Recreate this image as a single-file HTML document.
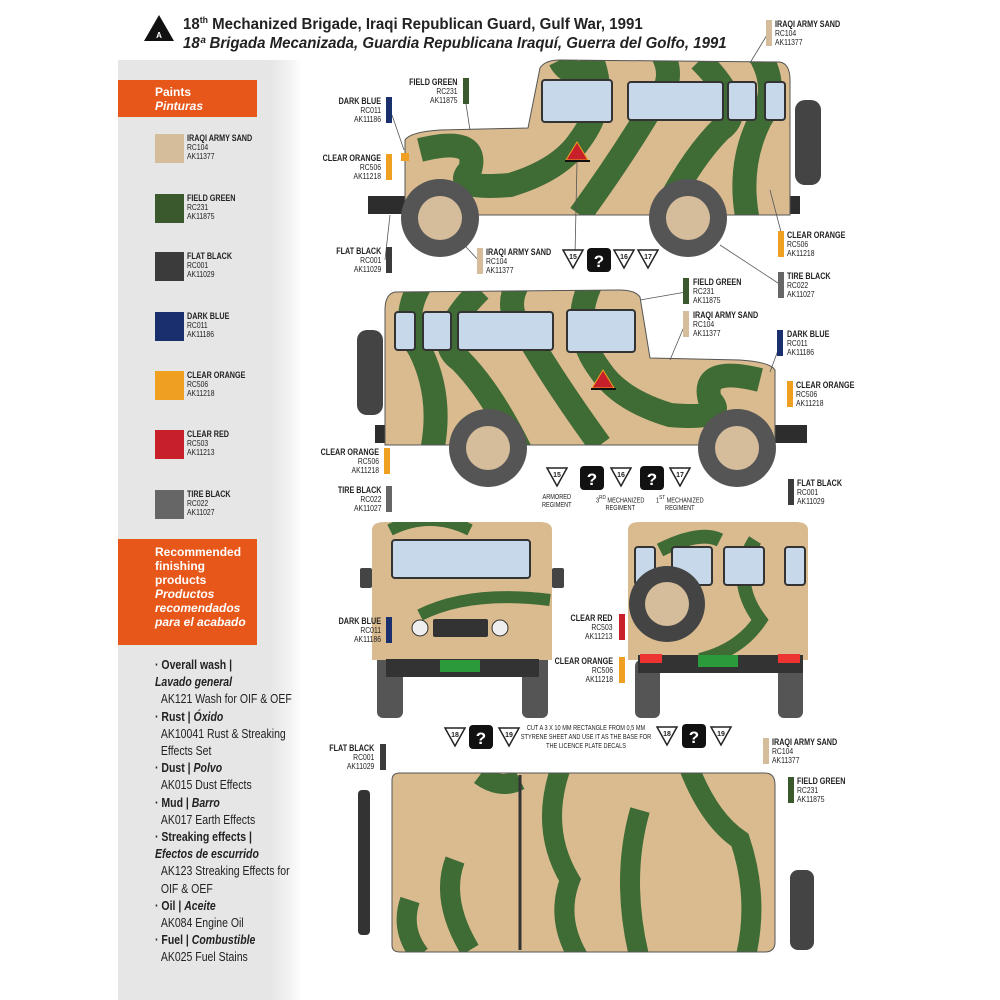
<!DOCTYPE html>
<html><head><meta charset="utf-8"><style>
body{margin:0;width:1000px;height:1000px;background:#fff;position:relative;overflow:hidden;font-family:"Liberation Sans Narrow","Liberation Sans",sans-serif}
.a{position:absolute}
.lb{position:absolute;font-size:8.5px;line-height:9px;color:#222;white-space:nowrap;transform:scaleX(.8);transform-origin:left top}
.lb b{font-size:9px}
.r{text-align:right;transform-origin:right top}
.bar{position:absolute;width:6px;height:26px}
.list{position:absolute;left:155px;top:657px;font-size:12.5px;line-height:17.2px;color:#222;transform:scaleX(.84);transform-origin:left top;white-space:nowrap}
.list b{font-weight:bold}
</style></head><body>
<div class="a" style="left:118px;top:60px;width:165px;height:940px;background:#e6e6e6"></div>
<div class="a" style="left:270px;top:60px;width:32px;height:940px;background:linear-gradient(90deg,#e6e6e6,#f2f2f2 60%,#fff)"></div>
<div class="a" style="left:118px;top:80px;width:139px;height:37px;background:#e8571a;color:#fff;font-family:'Liberation Sans',sans-serif;font-weight:bold;font-size:12px;line-height:14px"><div style="padding:5px 0 0 37px">Paints<br><i>Pinturas</i></div></div>
<div class="a" style="left:118px;top:539px;width:139px;height:106px;background:#e8571a;color:#fff;font-family:'Liberation Sans',sans-serif;font-weight:bold;font-size:12px;line-height:14px"><div style="padding:6px 0 0 37px">Recommended<br>finishing<br>products<br><i>Productos<br>recomendados<br>para el acabado</i></div></div>

<div class="a" style="left:155px;top:134px;width:29px;height:29px;background:#d5bd9b"></div>
<div class="lb" style="left:187px;top:134px"><b>IRAQI ARMY SAND</b><br>RC104<br>AK11377</div>
<div class="a" style="left:155px;top:194px;width:29px;height:29px;background:#3a5a2e"></div>
<div class="lb" style="left:187px;top:194px"><b>FIELD GREEN</b><br>RC231<br>AK11875</div>
<div class="a" style="left:155px;top:252px;width:29px;height:29px;background:#3b3b3b"></div>
<div class="lb" style="left:187px;top:252px"><b>FLAT BLACK</b><br>RC001<br>AK11029</div>
<div class="a" style="left:155px;top:312px;width:29px;height:29px;background:#1a2f6e"></div>
<div class="lb" style="left:187px;top:312px"><b>DARK BLUE</b><br>RC011<br>AK11186</div>
<div class="a" style="left:155px;top:371px;width:29px;height:29px;background:#f0a020"></div>
<div class="lb" style="left:187px;top:371px"><b>CLEAR ORANGE</b><br>RC506<br>AK11218</div>
<div class="a" style="left:155px;top:430px;width:29px;height:29px;background:#c8202a"></div>
<div class="lb" style="left:187px;top:430px"><b>CLEAR RED</b><br>RC503<br>AK11213</div>
<div class="a" style="left:155px;top:490px;width:29px;height:29px;background:#666"></div>
<div class="lb" style="left:187px;top:490px"><b>TIRE BLACK</b><br>RC022<br>AK11027</div>

<div class="list"><b>· Overall wash |</b><br><b><i>Lavado general</i></b><br>&nbsp;&nbsp;AK121 Wash for OIF &amp; OEF<br><b>· Rust | <i>Óxido</i></b><br>&nbsp;&nbsp;AK10041 Rust &amp; Streaking<br>&nbsp;&nbsp;Effects Set<br><b>· Dust | <i>Polvo</i></b><br>&nbsp;&nbsp;AK015 Dust Effects<br><b>· Mud | <i>Barro</i></b><br>&nbsp;&nbsp;AK017 Earth Effects<br><b>· Streaking effects |</b><br><b><i>Efectos de escurrido</i></b><br>&nbsp;&nbsp;AK123 Streaking Effects for<br>&nbsp;&nbsp;OIF &amp; OEF<br><b>· Oil | <i>Aceite</i></b><br>&nbsp;&nbsp;AK084 Engine Oil<br><b>· Fuel | <i>Combustible</i></b><br>&nbsp;&nbsp;AK025 Fuel Stains</div>

<svg class="a" style="left:143px;top:14px" width="32" height="28"><polygon points="16,1 31,27 1,27" fill="#111"/><text x="16" y="24" font-size="8" fill="#fff" text-anchor="middle" font-family="Liberation Sans" font-weight="bold">A</text></svg>
<div class="a" style="left:183px;top:11px;font-family:'Liberation Sans',sans-serif;font-weight:bold;font-size:15.5px;line-height:19px;color:#222;transform:scaleX(.97);transform-origin:left top;white-space:nowrap">18<sup style="font-size:9px">th</sup> Mechanized Brigade, Iraqi Republican Guard, Gulf War, 1991<br><i>18ª Brigada Mecanizada, Guardia Republicana Iraquí, Guerra del Golfo, 1991</i></div>

<svg class="a" style="left:0;top:0" width="1000" height="1000">
<defs>
<clipPath id="c1"><path d="M405,140 Q410,132 440,130 L528,128 L540,68 Q545,60 560,60 L780,62 Q790,64 790,80 L790,215 L405,215 Z"/></clipPath>
<clipPath id="c2"><path d="M775,370 Q770,362 740,360 L650,358 L640,297 Q635,290 620,290 L395,292 Q385,294 385,310 L385,445 L775,445 Z"/></clipPath>
<clipPath id="c3"><path d="M372,530 Q372,522 385,522 L540,522 Q552,522 552,530 L552,660 L372,660 Z"/></clipPath>
<clipPath id="c4"><path d="M628,530 Q628,522 640,522 L796,522 Q808,522 808,530 L808,660 L628,660 Z"/></clipPath>
<clipPath id="c5"><path d="M392,780 Q392,773 400,773 L765,773 Q775,773 775,785 L775,942 Q775,952 765,952 L400,952 Q392,952 392,945 Z"/></clipPath>
</defs>
<g>
<rect x="368" y="196" width="432" height="18" fill="#2d2d2d"/>
<g clip-path="url(#c1)"><rect x="400" y="55" width="400" height="165" fill="#d9bb8f"/>
<g stroke="#3f6b35" stroke-width="24" fill="none"><path d="M420,150 Q480,135 470,170 Q450,190 510,185 Q560,170 580,140 Q610,100 590,55"/><path d="M580,215 Q620,160 650,110 Q680,80 660,50"/><path d="M660,220 Q690,160 720,130 Q750,110 700,60"/><path d="M750,230 Q735,170 760,120 Q780,90 760,55"/><path d="M560,60 Q570,80 600,70"/></g></g>
<path d="M405,140 Q410,132 440,130 L528,128 L540,68 Q545,60 560,60 L780,62 Q790,64 790,80 L790,215 L405,215 Z" fill="none" stroke="#555" stroke-width="1"/>
<rect x="542" y="80" width="70" height="42" rx="3" fill="#c6d8ea" stroke="#333" stroke-width="2"/>
<rect x="628" y="82" width="95" height="38" rx="3" fill="#c6d8ea" stroke="#333" stroke-width="2"/>
<rect x="728" y="82" width="28" height="38" rx="3" fill="#c6d8ea" stroke="#333" stroke-width="2"/>
<rect x="765" y="82" width="20" height="38" rx="3" fill="#c6d8ea" stroke="#333" stroke-width="2"/>
<rect x="795" y="100" width="26" height="85" rx="10" fill="#444"/>
<polygon points="577,142 588,160 566,160" fill="#c8202a" stroke="#f0a020"/><rect x="565" y="160" width="25" height="2" fill="#111"/>
<rect x="401" y="153" width="8" height="8" fill="#f0a020"/>
<circle cx="440" cy="218" r="39" fill="#555"/><circle cx="440" cy="218" r="22" fill="#d5bd9b"/>
<circle cx="688" cy="218" r="39" fill="#555"/><circle cx="688" cy="218" r="22" fill="#d5bd9b"/>
</g>
<g>
<rect x="375" y="425" width="432" height="18" fill="#2d2d2d"/>
<g clip-path="url(#c2)"><rect x="380" y="285" width="400" height="165" fill="#d9bb8f"/>
<g stroke="#3f6b35" stroke-width="24" fill="none"><path d="M760,380 Q700,365 710,400 Q730,420 670,415 Q620,400 600,370 Q570,330 590,285"/><path d="M600,445 Q560,390 530,340 Q500,310 520,280"/><path d="M520,450 Q490,390 460,360 Q430,340 480,290"/><path d="M430,460 Q445,400 420,350 Q400,320 420,285"/></g></g>
<path d="M775,370 Q770,362 740,360 L650,358 L640,297 Q635,290 620,290 L395,292 Q385,294 385,310 L385,445 L775,445 Z" fill="none" stroke="#555"/>
<rect x="567" y="310" width="68" height="42" rx="3" fill="#c6d8ea" stroke="#333" stroke-width="2"/>
<rect x="458" y="312" width="95" height="38" rx="3" fill="#c6d8ea" stroke="#333" stroke-width="2"/>
<rect x="423" y="312" width="28" height="38" rx="3" fill="#c6d8ea" stroke="#333" stroke-width="2"/>
<rect x="395" y="312" width="20" height="38" rx="3" fill="#c6d8ea" stroke="#333" stroke-width="2"/>
<rect x="357" y="330" width="26" height="85" rx="10" fill="#444"/>
<polygon points="603,370 614,388 592,388" fill="#c8202a" stroke="#f0a020"/><rect x="591" y="388" width="25" height="2" fill="#111"/>
<circle cx="488" cy="448" r="39" fill="#555"/><circle cx="488" cy="448" r="22" fill="#d5bd9b"/>
<circle cx="737" cy="448" r="39" fill="#555"/><circle cx="737" cy="448" r="22" fill="#d5bd9b"/>
</g>
<g>
<rect x="377" y="640" width="26" height="78" rx="6" fill="#555"/><rect x="522" y="640" width="26" height="78" rx="6" fill="#555"/>
<g clip-path="url(#c3)"><rect x="370" y="520" width="185" height="145" fill="#d9bb8f"/>
<path d="M390,530 Q430,510 470,530 M420,615 Q470,590 550,600" stroke="#3f6b35" stroke-width="12" fill="none"/></g>
<rect x="392" y="540" width="138" height="38" rx="3" fill="#c6d8ea" stroke="#333" stroke-width="2"/>
<rect x="360" y="568" width="12" height="20" rx="2" fill="#444"/><rect x="552" y="568" width="12" height="20" rx="2" fill="#444"/>
<circle cx="420" cy="628" r="8" fill="#eee" stroke="#333"/><circle cx="500" cy="628" r="8" fill="#eee" stroke="#333"/>
<rect x="433" y="619" width="55" height="18" rx="2" fill="#333"/>
<rect x="386" y="659" width="153" height="18" fill="#333"/>
<rect x="440" y="660" width="40" height="12" fill="#2a9a3a"/>
</g>
<g>
<rect x="635" y="660" width="25" height="58" rx="6" fill="#555"/><rect x="778" y="660" width="25" height="58" rx="6" fill="#555"/>
<g clip-path="url(#c4)"><rect x="625" y="520" width="190" height="145" fill="#d9bb8f"/>
<path d="M660,550 Q700,530 720,540 M755,540 Q730,580 760,620 Q740,650 700,660" stroke="#3f6b35" stroke-width="14" fill="none"/></g>
<rect x="635" y="547" width="20" height="38" rx="3" fill="#c6d8ea" stroke="#333" stroke-width="2"/>
<rect x="672" y="547" width="40" height="38" rx="3" fill="#c6d8ea" stroke="#333" stroke-width="2"/>
<rect x="724" y="547" width="40" height="38" rx="3" fill="#c6d8ea" stroke="#333" stroke-width="2"/>
<rect x="785" y="547" width="20" height="38" rx="3" fill="#c6d8ea" stroke="#333" stroke-width="2"/>
<circle cx="667" cy="604" r="38" fill="#444"/><circle cx="667" cy="604" r="22" fill="#d5bd9b"/>
<rect x="638" y="655" width="165" height="18" fill="#333"/>
<rect x="640" y="654" width="22" height="9" fill="#e33"/><rect x="778" y="654" width="22" height="9" fill="#e33"/>
<rect x="698" y="655" width="40" height="12" fill="#2a9a3a"/>
</g>
<g>
<rect x="358" y="790" width="12" height="145" rx="4" fill="#333"/>
<rect x="790" y="870" width="24" height="80" rx="8" fill="#444"/>
<g clip-path="url(#c5)"><rect x="390" y="770" width="390" height="190" fill="#d9bb8f"/>
<g stroke="#3f6b35" stroke-width="20" fill="none"><path d="M455,860 Q440,900 470,950"/><path d="M410,900 Q400,930 420,955"/><path d="M560,770 Q540,830 570,880 Q555,920 580,960"/><path d="M640,810 Q620,880 640,960"/><path d="M690,770 Q710,820 740,840 Q760,900 745,960"/><path d="M480,775 Q500,790 520,780"/></g></g>
<path d="M392,780 Q392,773 400,773 L765,773 Q775,773 775,785 L775,942 Q775,952 765,952 L400,952 Q392,952 392,945 Z" fill="none" stroke="#555"/>
<line x1="520" y1="775" x2="520" y2="950" stroke="#333" stroke-width="3"/>
</g>
<g stroke="#555" stroke-width="0.8">
<line x1="466" y1="104" x2="470" y2="130"/><line x1="392" y1="115" x2="404" y2="150"/><line x1="480" y1="262" x2="455" y2="235"/><line x1="385" y1="260" x2="390" y2="215"/>
<line x1="781" y1="232" x2="770" y2="190"/><line x1="781" y1="285" x2="720" y2="245"/><line x1="770" y1="30" x2="750" y2="63"/>
<line x1="686" y1="292" x2="640" y2="300"/><line x1="686" y1="322" x2="670" y2="360"/><line x1="780" y1="345" x2="770" y2="372"/>
<line x1="575" y1="255" x2="577" y2="162"/>
</g>
</svg>

<svg width="1000" height="1000" style="position:absolute;left:0;top:0" font-family="Liberation Sans" font-weight="bold" text-anchor="middle">
<g fill="#fff" stroke="#222" stroke-width="1.5">
<polygon points="563,250 583,250 573,268"/><polygon points="614,250 634,250 624,268"/><polygon points="638,250 658,250 648,268"/>
<polygon points="547,468 567,468 557,486"/><polygon points="611,468 631,468 621,486"/><polygon points="670,468 690,468 680,486"/>
<polygon points="445,728 465,728 455,746"/><polygon points="499,728 519,728 509,746"/>
<polygon points="657,727 677,727 667,745"/><polygon points="711,727 731,727 721,745"/>
</g>
<g font-size="7" fill="#222"><text x="573" y="259">15</text><text x="624" y="259">16</text><text x="648" y="259">17</text><text x="557" y="477">15</text><text x="621" y="477">16</text><text x="680" y="477">17</text><text x="455" y="737">18</text><text x="509" y="737">19</text><text x="667" y="736">18</text><text x="721" y="736">19</text></g>
<g fill="#111"><rect x="587" y="248" width="24" height="24" rx="4"/><rect x="580" y="466" width="24" height="24" rx="4"/><rect x="640" y="466" width="24" height="24" rx="4"/><rect x="469" y="725" width="24" height="24" rx="4"/><rect x="682" y="724" width="24" height="24" rx="4"/></g>
<g fill="#fff" font-size="17"><text x="599" y="267">?</text><text x="592" y="485">?</text><text x="652" y="485">?</text><text x="481" y="744">?</text><text x="694" y="743">?</text></g>
</svg>

<div class="lb" style="left:542px;top:494px;text-align:center;font-size:7px;line-height:8px">ARMORED<br>REGIMENT</div>
<div class="lb" style="left:596px;top:494px;text-align:center;font-size:7px;line-height:8px">3<sup>RD</sup> MECHANIZED<br>REGIMENT</div>
<div class="lb" style="left:656px;top:494px;text-align:center;font-size:7px;line-height:8px">1<sup>ST</sup> MECHANIZED<br>REGIMENT</div>
<div class="lb" style="left:520px;top:724px;width:165px;text-align:center;font-size:7px;line-height:9px;white-space:normal">CUT A 3 X 10 MM RECTANGLE FROM 0,5 MM STYRENE SHEET AND USE IT AS THE BASE FOR THE LICENCE PLATE DECALS</div>

<div class="lb r" style="right:542px;top:78px"><b>FIELD GREEN</b><br>RC231<br>AK11875</div><div class="bar" style="left:463px;top:78px;background:#3a5a2e"></div>
<div class="lb r" style="right:619px;top:97px"><b>DARK BLUE</b><br>RC011<br>AK11186</div><div class="bar" style="left:386px;top:97px;background:#1a2f6e"></div>
<div class="lb r" style="right:619px;top:154px"><b>CLEAR ORANGE</b><br>RC506<br>AK11218</div><div class="bar" style="left:386px;top:154px;background:#f0a020"></div>
<div class="lb r" style="right:619px;top:247px"><b>FLAT BLACK</b><br>RC001<br>AK11029</div><div class="bar" style="left:386px;top:247px;background:#3b3b3b"></div>
<div class="bar" style="left:477px;top:248px;background:#d5bd9b"></div><div class="lb" style="left:486px;top:248px"><b>IRAQI ARMY SAND</b><br>RC104<br>AK11377</div>
<div class="bar" style="left:778px;top:231px;background:#f0a020"></div><div class="lb" style="left:787px;top:231px"><b>CLEAR ORANGE</b><br>RC506<br>AK11218</div>
<div class="bar" style="left:778px;top:272px;background:#666"></div><div class="lb" style="left:787px;top:272px"><b>TIRE BLACK</b><br>RC022<br>AK11027</div>
<div class="bar" style="left:766px;top:20px;background:#d5bd9b"></div><div class="lb" style="left:775px;top:20px"><b>IRAQI ARMY SAND</b><br>RC104<br>AK11377</div>
<div class="bar" style="left:683px;top:278px;background:#3a5a2e"></div><div class="lb" style="left:693px;top:278px"><b>FIELD GREEN</b><br>RC231<br>AK11875</div>
<div class="bar" style="left:683px;top:311px;background:#d5bd9b"></div><div class="lb" style="left:693px;top:311px"><b>IRAQI ARMY SAND</b><br>RC104<br>AK11377</div>
<div class="bar" style="left:777px;top:330px;background:#1a2f6e"></div><div class="lb" style="left:787px;top:330px"><b>DARK BLUE</b><br>RC011<br>AK11186</div>
<div class="bar" style="left:787px;top:381px;background:#f0a020"></div><div class="lb" style="left:796px;top:381px"><b>CLEAR ORANGE</b><br>RC506<br>AK11218</div>
<div class="lb r" style="right:621px;top:448px"><b>CLEAR ORANGE</b><br>RC506<br>AK11218</div><div class="bar" style="left:384px;top:448px;background:#f0a020"></div>
<div class="lb r" style="right:619px;top:486px"><b>TIRE BLACK</b><br>RC022<br>AK11027</div><div class="bar" style="left:386px;top:486px;background:#666"></div>
<div class="bar" style="left:788px;top:479px;background:#3b3b3b"></div><div class="lb" style="left:797px;top:479px"><b>FLAT BLACK</b><br>RC001<br>AK11029</div>
<div class="lb r" style="right:619px;top:617px"><b>DARK BLUE</b><br>RC011<br>AK11186</div><div class="bar" style="left:386px;top:617px;background:#1a2f6e"></div>
<div class="lb r" style="right:387px;top:614px"><b>CLEAR RED</b><br>RC503<br>AK11213</div><div class="bar" style="left:619px;top:614px;background:#c8202a"></div>
<div class="lb r" style="right:387px;top:657px"><b>CLEAR ORANGE</b><br>RC506<br>AK11218</div><div class="bar" style="left:619px;top:657px;background:#f0a020"></div>
<div class="lb r" style="right:626px;top:744px"><b>FLAT BLACK</b><br>RC001<br>AK11029</div><div class="bar" style="left:380px;top:744px;background:#3b3b3b"></div>
<div class="bar" style="left:763px;top:738px;background:#d5bd9b"></div><div class="lb" style="left:772px;top:738px"><b>IRAQI ARMY SAND</b><br>RC104<br>AK11377</div>
<div class="bar" style="left:788px;top:777px;background:#3a5a2e"></div><div class="lb" style="left:797px;top:777px"><b>FIELD GREEN</b><br>RC231<br>AK11875</div>
</body></html>
